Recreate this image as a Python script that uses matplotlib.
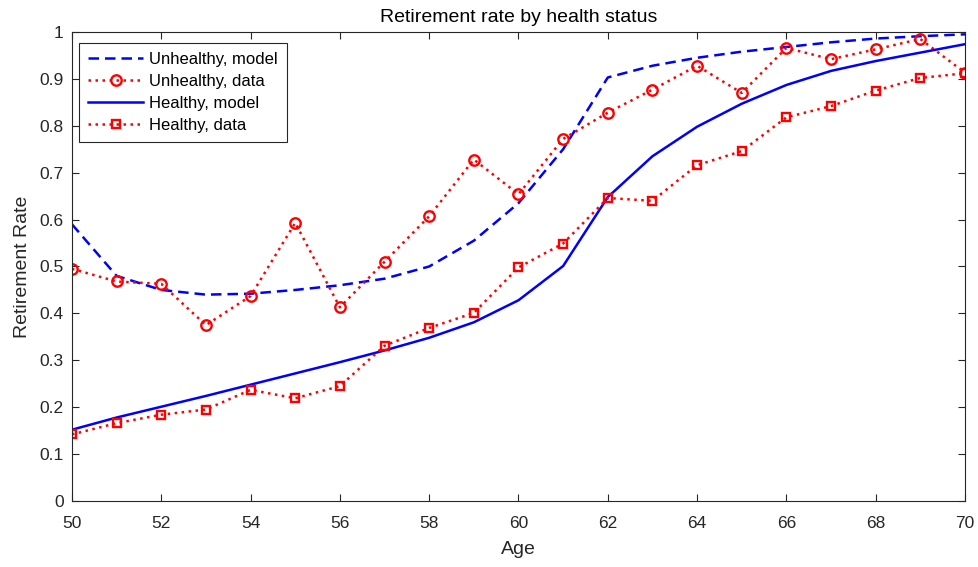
import matplotlib.pyplot as plt
import numpy as np

plt.rcParams['font.family'] = ['Liberation Sans', 'DejaVu Sans']

age = np.arange(50, 71)

unhealthy_model = [0.590, 0.480, 0.450, 0.440, 0.442, 0.450, 0.460, 0.474, 0.500, 0.555,
                   0.635, 0.750, 0.903, 0.928, 0.945, 0.958, 0.968, 0.978, 0.986, 0.991, 0.995]
unhealthy_data = [0.495, 0.468, 0.463, 0.375, 0.437, 0.593, 0.413, 0.510, 0.607, 0.728,
                  0.654, 0.772, 0.828, 0.877, 0.928, 0.870, 0.966, 0.942, 0.963, 0.985, 0.913]
healthy_model = [0.152, 0.178, 0.201, 0.224, 0.248, 0.272, 0.296, 0.321, 0.348, 0.381,
                 0.428, 0.501, 0.648, 0.735, 0.798, 0.847, 0.887, 0.917, 0.938, 0.956, 0.974]
healthy_data = [0.142, 0.166, 0.184, 0.195, 0.237, 0.219, 0.245, 0.331, 0.369, 0.401,
                0.498, 0.549, 0.646, 0.640, 0.716, 0.746, 0.818, 0.842, 0.875, 0.902, 0.912]

fig = plt.figure(figsize=(9.79, 5.67), dpi=100)
ax = fig.add_axes([0.0735, 0.1164, 0.9122, 0.8272])

lw = 1.8
ax.plot(age, unhealthy_model, color='#0000ff', lw=lw, linestyle='--', dashes=(4.2, 2.4),
        label='Unhealthy, model')
ax.plot(age, unhealthy_data, color='#ff0000', lw=lw, linestyle=':', dashes=(1, 1.8),
        marker='o', ms=7.5, mfc='none', mew=1.7, label='Unhealthy, data')
ax.plot(age, healthy_model, color='#0000ff', lw=lw, label='Healthy, model')
ax.plot(age, healthy_data, color='#ff0000', lw=lw, linestyle=':', dashes=(1, 1.8),
        marker='s', ms=6, mfc='none', mew=1.7, label='Healthy, data')

ax.set_xlim(50, 70)
ax.set_ylim(0, 1)
ax.set_xticks(np.arange(50, 71, 2))
ax.set_yticks(np.arange(0, 1.01, 0.1))
ax.set_yticklabels(['0'] + ['%.1f' % v for v in np.arange(0.1, 0.95, 0.1)] + ['1'])

axcol = '#262626'
for s in ax.spines.values():
    s.set_color(axcol)
    s.set_linewidth(0.8)
ax.tick_params(direction='in', length=5, width=0.8, colors=axcol, labelsize=12.5,
               top=True, right=True)
ax.tick_params(axis='x', pad=11)
ax.tick_params(axis='y', pad=6)

ax.set_title('Retirement rate by health status', fontsize=14, color='black', pad=7)
ax.set_xlabel('Age', fontsize=14, color=axcol, labelpad=7)
ax.set_ylabel('Retirement Rate', fontsize=14, color=axcol, labelpad=6)

leg = ax.legend(loc='upper left', bbox_to_anchor=(0.008, 0.977), borderaxespad=0,
                fontsize=12, fancybox=False, framealpha=1, edgecolor=axcol,
                handlelength=3.3, borderpad=0.55, labelspacing=0.42, handletextpad=0.35)
leg.get_frame().set_linewidth(0.8)

fig.savefig('out.png', dpi=100)
